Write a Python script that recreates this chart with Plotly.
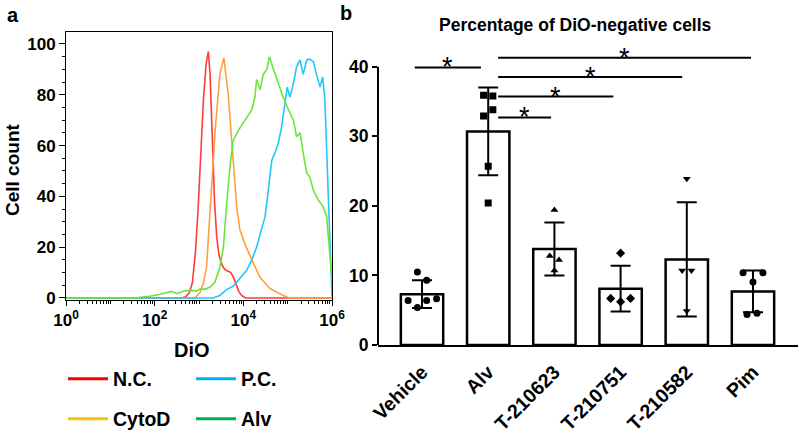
import numpy as np
import plotly.graph_objects as go

# ---------- panel a: DiO histograms (x stored as log10 of DiO intensity) ----------
nc_log = [0, 2.6, 2.70, 2.78, 2.85, 2.92, 2.98, 3.04, 3.10, 3.16, 3.21, 3.25, 3.30, 3.35, 3.40,
          3.45, 3.50, 3.55, 3.60, 3.66, 3.72, 3.78, 3.84, 3.90, 3.96, 4.05, 6]
nc_cnt = [0, 0, 0.5, 2, 6, 18, 35, 58, 78, 92, 97, 88, 62, 38, 24,
          17, 14, 12, 11, 10.5, 10, 8, 5, 2.5, 1, 0, 0]

cytod_log = [0, 2.9, 3.02, 3.10, 3.17, 3.25, 3.36, 3.47, 3.56, 3.66, 3.74, 3.85, 3.92, 4.04,
             4.23, 4.38, 4.60, 4.90, 5.05, 6]
cytod_cnt = [0, 0, 2, 6, 12, 36, 65, 88, 94.6, 80, 62, 36, 27, 21,
             13.5, 8, 3.7, 1, 0, 0]

alv_log = [0, 1.60, 1.67, 1.89, 2.12, 2.27, 2.38, 2.50, 2.68, 2.83, 2.95, 3.02, 3.14, 3.25, 3.36,
           3.47, 3.55, 3.62, 3.70, 3.77, 3.89, 4.00, 4.11, 4.19, 4.26, 4.30, 4.38, 4.45, 4.53,
           4.59, 4.68, 4.79, 4.90, 5.02, 5.13, 5.20, 5.28, 5.35, 5.43, 5.50, 5.58, 5.69, 5.80,
           5.88, 5.95, 6.0]
alv_cnt = [0, 0, 0.3, 0.7, 1.5, 2, 2.6, 1.7, 2.8, 3, 2.8, 3.5, 3.5, 4.3, 6.3,
           12, 20, 36, 52, 62, 66, 69, 72, 74, 79, 86, 82, 88, 90,
           95, 90, 84.5, 79, 74, 70, 63.5, 65, 57, 49, 47.7, 42.4, 38.5, 36,
           32, 17.5, 7]

pc_log = [0, 3.32, 3.47, 3.62, 3.77, 3.92, 4.08, 4.19, 4.30, 4.41, 4.49, 4.56, 4.64, 4.71, 4.79,
          4.86, 4.94, 4.99, 5.05, 5.13, 5.20, 5.28, 5.35, 5.43, 5.50, 5.58, 5.65, 5.73, 5.79,
          5.84, 5.92, 5.97, 6.0]
pc_cnt = [0, 0, 1, 3.3, 4.6, 7.6, 11, 15, 20, 27, 32, 42, 54, 57, 61,
          67, 78, 83, 79, 84.5, 91, 93.7, 88, 93.7, 94, 93, 88, 83, 87,
          78, 38.5, 12, 0.5]

hist_names = ["N.C.", "CytoD", "P.C.", "Alv"]
hist_colors = ["#ff3b3b", "#ffa040", "#25c6fb", "#6be53b"]
legend_colors = ["#ff0000", "#ffc000", "#00b0f0", "#00b050"]

# ---------- panel b: percentage of DiO-negative cells ----------
groups = ["Vehicle", "Alv", "T-210623", "T-210751", "T-210582", "Pim"]
means = [7.3, 30.7, 13.8, 8.1, 12.3, 7.7]
sds = [2.0, 6.3, 3.8, 3.3, 8.2, 3.0]
pt_values = [
    [10.5, 9.3, 6.4, 6.4, 6.65, 5.4],
    [35.9, 35.8, 33.8, 32.9, 25.7, 20.4],
    [19.4, 12.8, 12.2, 10.7],
    [13.2, 6.7, 6.7, 6.2],
    [23.9, 10.7, 10.7, 4.9],
    [10.4, 10.4, 9.05, 4.4, 4.55],
]
pt_offsets = [
    [-0.07, 0.07, -0.21, 0.07, 0.22, -0.07],
    [-0.07, 0.07, 0.07, -0.07, 0.0, 0.0],
    [0.0, -0.07, 0.07, 0.0],
    [0.0, -0.15, 0.15, 0.0],
    [0.0, -0.07, 0.07, 0.0],
    [-0.15, 0.15, 0.0, -0.09, 0.06],
]
pt_symbols = ["circle", "square", "triangle-up", "diamond", "triangle-down", "circle"]
# significance brackets: start x, end x, level
sig_start = [-0.11, 1.15, 1.15, 1.15, 1.15]
sig_end = [0.89, 1.95, 2.89, 3.93, 4.97]
sig_level = [39.9, 32.7, 35.7, 38.5, 41.3]

FONT = "Liberation Sans"
W, H = 799, 441

fig = go.Figure()

for name, lx, cnt in [("N.C.", nc_log, nc_cnt), ("CytoD", cytod_log, cytod_cnt),
                      ("P.C.", pc_log, pc_cnt), ("Alv", alv_log, alv_cnt)]:
    fig.add_trace(go.Scatter(x=10 ** np.array(lx), y=cnt, mode="lines",
                             line=dict(color=hist_colors[hist_names.index(name)], width=1.6),
                             showlegend=False, xaxis="x", yaxis="y"))

# legend entries, one legend each so that they sit in a 2x2 grid
leg_ids = ["legend", "legend2", "legend3", "legend4"]
leg_pos = [(63, 379), (63, 419), (191, 379), (191, 419)]
for name, col, lid in zip(hist_names, legend_colors, leg_ids):
    fig.add_trace(go.Scatter(x=[None], y=[None], mode="lines", name=name,
                             line=dict(color=col, width=3), legend=lid,
                             xaxis="x", yaxis="y"))

fig.add_trace(go.Bar(x=list(range(len(groups))), y=means, width=0.64,
                     marker=dict(color="white", line=dict(color="black", width=2.5)),
                     error_y=dict(type="data", array=sds, color="black", thickness=2, width=10),
                     showlegend=False, xaxis="x2", yaxis="y2"))

for i in range(len(groups)):
    fig.add_trace(go.Scatter(x=[i + o for o in pt_offsets[i]], y=pt_values[i], mode="markers",
                             marker=dict(symbol=pt_symbols[i], color="black", size=7),
                             showlegend=False, xaxis="x2", yaxis="y2"))

for s, e, lv in zip(sig_start, sig_end, sig_level):
    fig.add_shape(type="line", xref="x2", yref="y2", x0=s, x1=e, y0=lv, y1=lv,
                  line=dict(color="black", width=2))
    fig.add_annotation(x=(s + e) / 2, y=lv, xref="x2", yref="y2", text="*", showarrow=False,
                       yanchor="middle", font=dict(size=27, color="black", family=FONT))

# y axis line of panel b stops at 40
fig.add_shape(type="line", xref="x2 domain", yref="y2", x0=0, x1=0, y0=0, y1=40,
              line=dict(color="black", width=2))

bold = dict(family=FONT, color="black", weight="bold")

fig.update_layout(
    template="none",
    width=W, height=H,
    margin=dict(l=0, r=0, t=0, b=0),
    paper_bgcolor="white", plot_bgcolor="white",
    font=dict(family=FONT, color="black"),
    xaxis=dict(type="log", range=[0, 6], domain=[66 / W, 332 / W], anchor="y",
               showline=True, mirror=True, linecolor="black", linewidth=1,
               tickvals=[1, 100, 1e4, 1e6],
               ticktext=["10<sup>0</sup>", "10<sup>2</sup>", "10<sup>4</sup>", "10<sup>6</sup>"],
               ticks="outside", ticklen=5, tickcolor="black",
               minor=dict(tickvals=[k * 10 ** n for n in range(6) for k in range(1, 10)
                                    if not (k == 1 and n % 2 == 0)],
                          ticks="outside", ticklen=3, tickcolor="black"),
               showgrid=False, zeroline=False, automargin=False,
               tickfont=dict(size=17, **bold)),
    yaxis=dict(range=[-0.8, 104.7], domain=[1 - 300 / H, 1 - 32 / H], anchor="x",
               showline=True, mirror=True, linecolor="black", linewidth=1,
               tickvals=[0, 20, 40, 60, 80, 100], ticks="outside", ticklen=6, tickcolor="black",
               minor=dict(dtick=5, tick0=0, ticks="outside", ticklen=3, tickcolor="black"),
               showgrid=False, zeroline=False, automargin=False,
               tickfont=dict(size=17, **bold)),
    xaxis2=dict(range=[-0.665, 5.68], domain=[378 / W, 798 / W], anchor="y2",
                showline=True, linecolor="black", linewidth=2,
                tickvals=list(range(len(groups))), ticktext=groups, tickangle=-45,
                ticks="", ticklabelstandoff=6, showgrid=False, zeroline=False, automargin=False,
                tickfont=dict(size=19.5, **bold)),
    yaxis2=dict(range=[0, 42.8], domain=[1 - 345 / H, 1 - 47.2 / H], anchor="x2",
                showline=False, tickvals=[0, 10, 20, 30, 40], ticks="outside", ticklen=5,
                tickwidth=2, tickcolor="black", automargin=False,
                showgrid=False, zeroline=False, tickfont=dict(size=17.5, **bold)),
)

for lid, (px, py) in zip(leg_ids, leg_pos):
    fig.update_layout({lid: dict(x=px / W, y=1 - py / H, xanchor="left", yanchor="middle",
                                 bgcolor="rgba(0,0,0,0)", borderwidth=0, itemwidth=40,
                                 font=dict(size=19.5, **bold))})

annots = [
    dict(text="a", x=5 / W, y=1 - 2 / H, xanchor="left", yanchor="top", font=dict(size=20, **bold)),
    dict(text="b", x=338 / W, y=1 - 0 / H, xanchor="left", yanchor="top", font=dict(size=20, **bold)),
    dict(text="Cell count", x=12 / W, y=1 - 170 / H, xanchor="center", yanchor="middle",
         textangle=-90, font=dict(size=19, **bold)),
    dict(text="DiO", x=192 / W, y=1 - 350 / H, xanchor="center", yanchor="middle",
         font=dict(size=20, **bold)),
    dict(text="Percentage of DiO-negative cells", x=575 / W, y=1 - 25 / H, xanchor="center",
         yanchor="middle", font=dict(size=17.5, **bold)),
]
for a in annots:
    fig.add_annotation(xref="paper", yref="paper", showarrow=False, **a)

fig.write_html("out.html", config={"displayModeBar": False},
               post_script="document.body.style.margin='0';document.body.style.padding='0';")
